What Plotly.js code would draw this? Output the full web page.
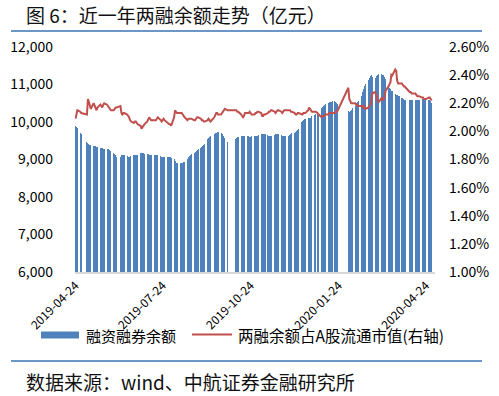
<!DOCTYPE html>
<html>
<head>
<meta charset="utf-8">
<script src="https://cdn.plot.ly/plotly-3.0.1.min.js"></script>
<style>
  html, body { margin: 0; padding: 0; background: #fff; }
  #chart { width: 499px; height: 396px; }
</style>
</head>
<body>
<div id="chart"></div>
<script>
// ---- Data ----
// Trading calendar: weekdays from 2019-04-24 to 2020-04-30, minus exchange holidays
var startDate = '2019-04-24';
var endDate = '2020-04-30';
var holidays = ['2019-05-01','2019-05-02','2019-05-03','2019-06-07','2019-09-13',
  '2019-10-01','2019-10-02','2019-10-03','2019-10-04','2019-10-07',
  '2020-01-01','2020-01-24','2020-01-27','2020-01-28','2020-01-29','2020-01-30','2020-01-31',
  '2020-04-06'];

// 融资融券余额 (亿元), one value per trading day, grouped by week
var marginBalance = [
  9900, 9870, 9830,
  9720, 9690,
  9470, 9440, 9420, 9390, 9380,
  9360, 9350, 9350, 9340, 9330,
  9310, 9300, 9300, 9290, 9280,
  9270, 9270, 9260, 9250, 9230,
  9180, 9150, 9110, 9080,
  9080, 9110, 9120, 9120, 9110,
  9090, 9080, 9080, 9090, 9100,
  9120, 9130, 9130, 9120, 9120,
  9170, 9180, 9180, 9170, 9160,
  9150, 9140, 9130, 9130, 9120,
  9140, 9130, 9120, 9110, 9110,
  9090, 9080, 9080, 9080, 9070,
  9080, 9080, 9070, 9060, 9050,
  9010, 8960, 8930, 8920, 8910,
  8910, 8920, 8920, 8930, 8940,
  9010, 9060, 9090, 9120, 9150,
  9180, 9210, 9230, 9250, 9270,
  9300, 9330, 9360, 9390, 9420,
  9540, 9570, 9600, 9620,
  9690, 9710, 9720, 9730, 9740,
  9730, 9720, 9680, 9620, 9570,
  9480,
  9560, 9570, 9590, 9600,
  9620, 9630, 9630, 9630, 9620,
  9620, 9620, 9610, 9610, 9620,
  9630, 9640, 9640, 9640, 9650,
  9670, 9680, 9680, 9670, 9670,
  9650, 9640, 9640, 9640, 9640,
  9660, 9680, 9690, 9680, 9670,
  9650, 9640, 9640, 9630, 9620,
  9630, 9640, 9660, 9680, 9700,
  9720, 9740, 9760, 9780, 9810,
  10000, 10040, 10060, 10080, 10090,
  10100, 10110, 10120, 10130, 10150,
  10190, 10210, 10230, 10220,
  10380, 10410, 10430, 10450, 10470,
  10510, 10530, 10540, 10540, 10550,
  10560, 10540, 10520, 10490,
  10300, 10260, 10290, 10330, 10370,
  10420, 10460, 10500, 10530, 10560,
  10700, 10800, 10880, 10950, 11020,
  11120, 11180, 11230, 11260, 11200,
  11180, 11220, 11260, 11290, 11300,
  11280, 11260, 11250, 11210, 11160,
  10990, 10920, 10880, 10840, 10820,
  10760, 10730, 10720, 10700, 10690,
  10650, 10630, 10610, 10590, 10580,
  10590, 10600, 10600, 10590,
  10580, 10580, 10590, 10590, 10600,
  10610, 10620, 10610, 10620, 10610,
  10600, 10580, 10550, 10520
];

// 两融余额占A股流通市值 (%), right axis
var marginRatio = [
  2.09, 2.13, 2.15,
  2.14, 2.13,
  2.12, 2.23, 2.21, 2.19, 2.16,
  2.20, 2.18, 2.16, 2.15, 2.17,
  2.19, 2.18, 2.17, 2.19, 2.20,
  2.19, 2.18, 2.17, 2.16, 2.15,
  2.15, 2.16, 2.17, 2.17,
  2.18, 2.13, 2.12, 2.13, 2.13,
  2.12, 2.11, 2.10, 2.08, 2.07,
  2.06, 2.07, 2.07, 2.06, 2.05,
  2.04, 2.02, 2.03, 2.04, 2.05,
  2.07, 2.09, 2.10, 2.09, 2.08,
  2.08, 2.08, 2.08, 2.09, 2.10,
  2.08, 2.07, 2.08, 2.09, 2.08,
  2.06, 2.06, 2.05, 2.05, 2.04,
  2.10, 2.15, 2.14, 2.13, 2.13,
  2.13, 2.13, 2.12, 2.11, 2.10,
  2.08, 2.09, 2.09, 2.09, 2.09,
  2.08, 2.08, 2.09, 2.10, 2.10,
  2.09, 2.08, 2.08, 2.07, 2.07,
  2.08, 2.09, 2.08, 2.07,
  2.10, 2.12, 2.13, 2.13, 2.12,
  2.12, 2.13, 2.14, 2.15, 2.16,
  2.15,
  2.15, 2.15, 2.14, 2.14,
  2.12, 2.11, 2.10, 2.11, 2.13,
  2.13, 2.13, 2.14, 2.13, 2.12,
  2.12, 2.13, 2.13, 2.14, 2.14,
  2.13, 2.11, 2.11, 2.12, 2.12,
  2.13, 2.14, 2.14, 2.15, 2.15,
  2.14, 2.13, 2.14, 2.15, 2.15,
  2.14, 2.13, 2.14, 2.15, 2.15,
  2.15, 2.15, 2.15, 2.14, 2.14,
  2.13, 2.12, 2.12, 2.13, 2.13,
  2.12, 2.12, 2.13, 2.13, 2.13,
  2.15, 2.17, 2.16, 2.15, 2.14,
  2.14, 2.14, 2.13, 2.12,
  2.10, 2.11, 2.11, 2.11, 2.12,
  2.12, 2.13, 2.13, 2.13, 2.13,
  2.13, 2.14, 2.14, 2.15,
  2.31, 2.23, 2.21, 2.20, 2.20,
  2.20, 2.19, 2.19, 2.18, 2.18,
  2.18, 2.17, 2.18, 2.17, 2.16,
  2.17, 2.18, 2.19, 2.21, 2.27,
  2.28, 2.25, 2.23, 2.21, 2.21,
  2.24, 2.22, 2.23, 2.26, 2.29,
  2.32, 2.34, 2.35, 2.41, 2.40,
  2.44, 2.43, 2.36, 2.34, 2.34,
  2.34, 2.33, 2.32, 2.32, 2.31,
  2.28, 2.28, 2.27, 2.27,
  2.27, 2.26, 2.25, 2.25, 2.25,
  2.24, 2.24, 2.23, 2.23, 2.23,
  2.24, 2.24, 2.23, 2.22
];

var xTickDates = ['2019-04-24', '2019-07-24', '2019-10-24', '2020-01-24', '2020-04-24'];
var leftTicks = [6000, 7000, 8000, 9000, 10000, 11000, 12000];
var rightTicks = [1.0, 1.2, 1.4, 1.6, 1.8, 2.0, 2.2, 2.4, 2.6];
var seriesNames = ['融资融券余额', '两融余额占A股流通市值(右轴)'];
var titleText = '图 6：近一年两融余额走势（亿元）';
var sourceText = '数据来源：wind、中航证券金融研究所';

// ---- Build trading-day categories ----
function pad(n) { return (n < 10 ? '0' : '') + n; }
var tradingDays = [];
var d = new Date(startDate + 'T00:00:00Z');
var end = new Date(endDate + 'T00:00:00Z');
while (d <= end) {
  var s = d.getUTCFullYear() + '-' + pad(d.getUTCMonth() + 1) + '-' + pad(d.getUTCDate());
  var wd = d.getUTCDay();
  if (wd !== 0 && wd !== 6 && holidays.indexOf(s) < 0) tradingDays.push(s);
  d = new Date(d.getTime() + 86400000);
}

var rightTickText = rightTicks.map(function (v) { return v.toFixed(2) + '%'; });
var leftTickText = leftTicks.map(function (v) { return v.toLocaleString('en-US'); });

var FONT = '"Noto Sans CJK SC", "Noto Sans", sans-serif';
var BLUE = '#4F81BD';
var RED = '#C0504D';
var RULE = '#6A96C8';

// pixel -> paper helpers (plot area: x 75..435, y 47..272)
function px(x) { return (x - 75) / 360; }
function py(y) { return (272 - y) / 225; }

var traces = [
  {
    type: 'bar', x: tradingDays, y: marginBalance, name: seriesNames[0],
    marker: { color: BLUE, line: { width: 0 } }, yaxis: 'y', hoverinfo: 'skip'
  },
  {
    type: 'scatter', mode: 'lines', x: tradingDays, y: marginRatio, name: seriesNames[1],
    line: { color: RED, width: 2 }, yaxis: 'y2', hoverinfo: 'skip'
  }
];

var layout = {
  width: 499, height: 396,
  margin: { l: 75, r: 64, t: 47, b: 124, pad: 0 },
  paper_bgcolor: '#fff', plot_bgcolor: '#fff',
  showlegend: false,
  bargap: 0,
  font: { family: FONT, color: '#000', size: 13 },
  xaxis: {
    type: 'date',
    range: ['2019-04-23 12:00', '2020-05-03 12:00'],
    tickmode: 'array', tickvals: xTickDates, ticktext: xTickDates,
    tickangle: -45, tickfont: { size: 12, family: FONT, color: '#000' },
    showgrid: false, zeroline: false,
    showline: true, linecolor: '#D9D9D9', linewidth: 2,
    ticks: '', fixedrange: true
  },
  yaxis: {
    range: [6000, 12000], tickmode: 'array', tickvals: leftTicks, ticktext: leftTickText,
    tickfont: { size: 14, family: FONT, color: '#000' },
    showgrid: false, zeroline: false, showline: false, ticks: '',
    ticklabelstandoff: 21
  },
  yaxis2: {
    overlaying: 'y', side: 'right',
    range: [1.0, 2.6], tickmode: 'array', tickvals: rightTicks, ticktext: rightTickText,
    tickfont: { size: 14, family: FONT, color: '#000' },
    showgrid: false, zeroline: false, showline: false, ticks: '',
    ticklabelstandoff: 13
  },
  shapes: [
    { type: 'line', xref: 'paper', yref: 'paper', x0: px(11), x1: px(482), y0: py(31), y1: py(31),
      line: { color: RULE, width: 2 } },
    { type: 'line', xref: 'paper', yref: 'paper', x0: px(11), x1: px(482), y0: py(361), y1: py(361),
      line: { color: RULE, width: 2 } },
    { type: 'rect', xref: 'paper', yref: 'paper', x0: px(41), x1: px(79), y0: py(331.5), y1: py(338.5),
      fillcolor: BLUE, line: { width: 0 } },
    { type: 'line', xref: 'paper', yref: 'paper', x0: px(192), x1: px(232), y0: py(334.5), y1: py(334.5),
      line: { color: RED, width: 2 } }
  ],
  annotations: [
    { xref: 'paper', yref: 'paper', x: px(24), y: py(15), xanchor: 'left', yanchor: 'middle',
      text: titleText, showarrow: false, font: { size: 19, family: FONT, color: '#111' } },
    { xref: 'paper', yref: 'paper', x: px(84), y: py(335), xanchor: 'left', yanchor: 'middle',
      text: seriesNames[0], showarrow: false, font: { size: 15, family: FONT, color: '#000' } },
    { xref: 'paper', yref: 'paper', x: px(236), y: py(335), xanchor: 'left', yanchor: 'middle',
      text: seriesNames[1], showarrow: false, font: { size: 15.5, family: FONT, color: '#000' } },
    { xref: 'paper', yref: 'paper', x: px(24), y: py(381), xanchor: 'left', yanchor: 'middle',
      text: sourceText, showarrow: false, font: { size: 19, family: FONT, color: '#111' } }
  ]
};

Plotly.newPlot('chart', traces, layout, { staticPlot: true, displayModeBar: false });
</script>
</body>
</html>
